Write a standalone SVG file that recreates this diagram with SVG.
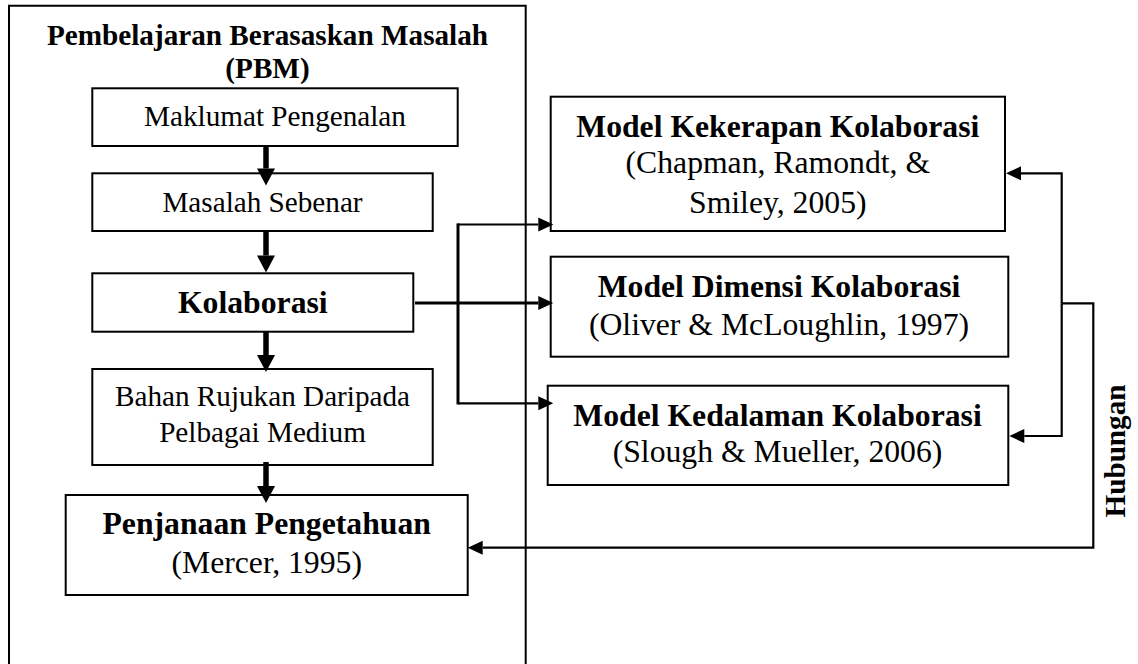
<svg xmlns="http://www.w3.org/2000/svg" width="1138" height="664" viewBox="0 0 1138 664">
  <style>
    .box { fill: #ffffff; stroke: #000000; stroke-width: 2; }
    .frame { fill: none; stroke: #000000; stroke-width: 2; }
    text { font-family: "Liberation Serif", "Times New Roman", serif; fill: #000000; text-anchor: middle; }
    .r29 { font-size: 29.2px; }
    .b29 { font-size: 29.2px; font-weight: bold; }
    .r32 { font-size: 31.7px; }
    .b32 { font-size: 31.7px; font-weight: bold; }
    .thick { fill: none; stroke: #000000; stroke-width: 5.5; }
    .mid { fill: none; stroke: #000000; stroke-width: 3; }
    .thin { fill: none; stroke: #000000; stroke-width: 2.2; }
  </style>
  <defs>
    <marker id="headBig" markerUnits="userSpaceOnUse" viewBox="0 0 17 18" refX="0" refY="9" markerWidth="17" markerHeight="18" orient="auto" overflow="visible">
      <path d="M0,0 L17,9 L0,18 Z" fill="#000000"/>
    </marker>
    <marker id="headSmall" markerUnits="userSpaceOnUse" viewBox="0 0 15 14" refX="0" refY="7" markerWidth="15" markerHeight="14" orient="auto" overflow="visible">
      <path d="M0,0 L15,7 L0,14 Z" fill="#000000"/>
    </marker>
  </defs>
  <rect x="0" y="0" width="1138" height="664" fill="#ffffff"/>

  <g id="frame-pbm">
    <path class="frame" d="M9,672 V5.7 H525.7 V672"/>
    <text class="b29" x="267.5" y="45">Pembelajaran Berasaskan Masalah</text>
    <text class="b29" x="267.5" y="78">(PBM)</text>
  </g>

  <g id="node-maklumat">
    <rect class="box" x="92.3" y="88.3" width="365.4" height="57.7"/>
    <text class="r29" x="275" y="126">Maklumat Pengenalan</text>
  </g>

  <g id="node-masalah">
    <rect class="box" x="92.3" y="173.3" width="340.4" height="57.7"/>
    <text class="r29" x="262.5" y="211.7">Masalah Sebenar</text>
  </g>

  <g id="node-kolaborasi">
    <rect class="box" x="92.3" y="273.3" width="321" height="58.4"/>
    <text class="b32" x="252.8" y="313.3">Kolaborasi</text>
  </g>

  <g id="node-bahan">
    <rect class="box" x="92.3" y="369" width="340.4" height="96"/>
    <text class="r29" x="262.5" y="406">Bahan Rujukan Daripada</text>
    <text class="r29" x="262.5" y="442.3">Pelbagai Medium</text>
  </g>

  <g id="node-penjanaan">
    <rect class="box" x="65.7" y="495" width="402" height="100"/>
    <text class="b32" x="266.7" y="534.3">Penjanaan Pengetahuan</text>
    <text class="r32" x="266.7" y="572.7">(Mercer, 1995)</text>
  </g>

  <g id="node-kekerapan">
    <rect class="box" x="550.7" y="96.7" width="454.3" height="134.3"/>
    <text class="b32" x="777.8" y="136.7">Model Kekerapan Kolaborasi</text>
    <text class="r32" x="777.8" y="173">(Chapman, Ramondt, &amp;</text>
    <text class="r32" x="777.8" y="213.3">Smiley, 2005)</text>
  </g>

  <g id="node-dimensi">
    <rect class="box" x="550.7" y="256.7" width="457.6" height="100"/>
    <text class="b32" x="779" y="296.7">Model Dimensi Kolaborasi</text>
    <text class="r32" x="779" y="335">(Oliver &amp; McLoughlin, 1997)</text>
  </g>

  <g id="node-kedalaman">
    <rect class="box" x="547.7" y="385.7" width="460.6" height="99.3"/>
    <text class="b32" x="777.5" y="425.7">Model Kedalaman Kolaborasi</text>
    <text class="r32" x="777.5" y="461.7">(Slough &amp; Mueller, 2006)</text>
  </g>

  <g id="connectors">
    <line class="thick" x1="266" y1="146" x2="266" y2="168.5" marker-end="url(#headBig)"/>
    <line class="thick" x1="266" y1="231" x2="266" y2="255.5" marker-end="url(#headBig)"/>
    <line class="thick" x1="266" y1="331.7" x2="266" y2="355" marker-end="url(#headBig)"/>
    <line class="thick" x1="266" y1="462" x2="266" y2="486" marker-end="url(#headBig)"/>

    <line class="mid" x1="415" y1="303" x2="538.3" y2="303" marker-end="url(#headSmall)"/>
    <line class="mid" x1="458" y1="223.4" x2="458" y2="404.4"/>
    <line class="thin" x1="458" y1="224.5" x2="538.3" y2="224.5" marker-end="url(#headSmall)"/>
    <line class="thin" x1="458" y1="403.3" x2="538.3" y2="403.3" marker-end="url(#headSmall)"/>

    <path class="thin" d="M1061.7,303.3 V173.3 H1021" marker-end="url(#headSmall)" transform="translate(0,0)"/>
    <path class="thin" d="M1061.7,303.3 V436 H1024.3" marker-end="url(#headSmall)"/>
    <path class="thin" d="M1061.7,303.3 H1093.3 V547.7 H482.7" marker-end="url(#headSmall)"/>
  </g>

  <g id="label-hubungan">
    <text class="b29" transform="translate(1125,451) rotate(-90)" x="0" y="0">Hubungan</text>
  </g>
</svg>
